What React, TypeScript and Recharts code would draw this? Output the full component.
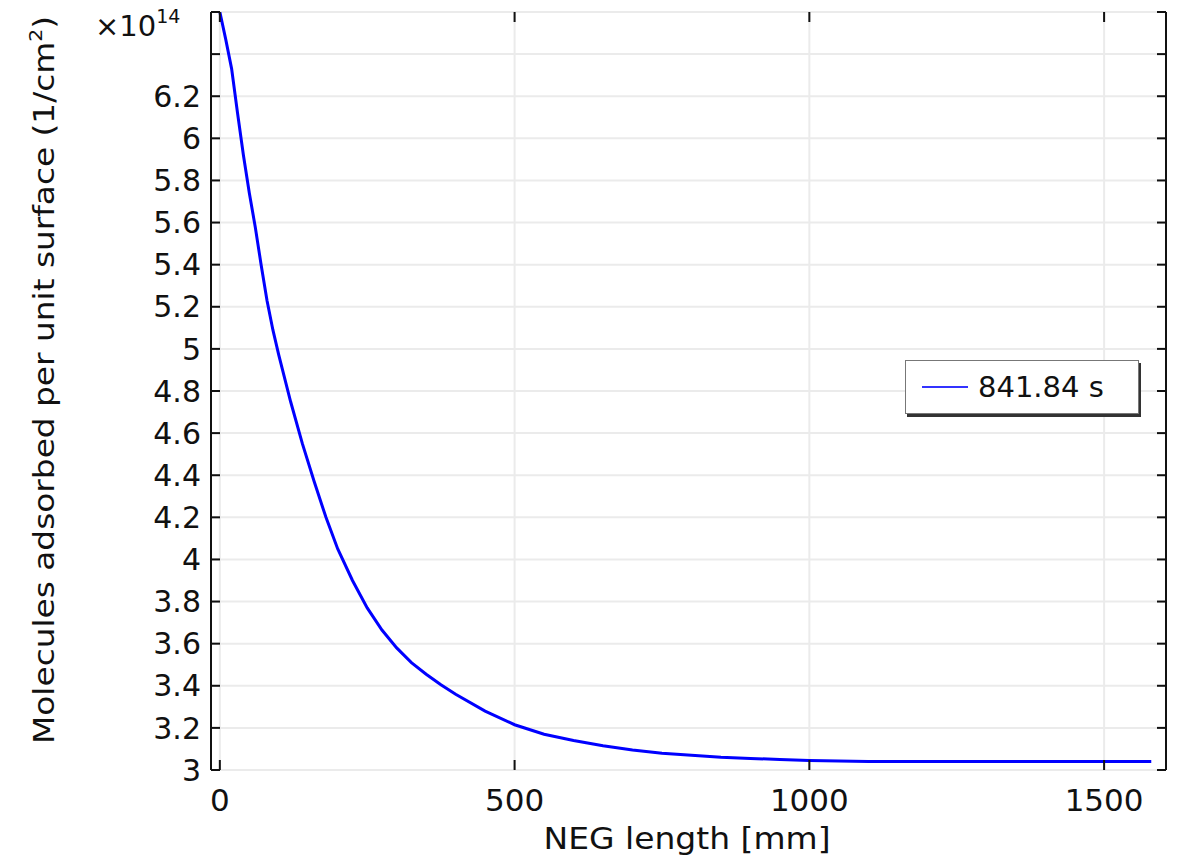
import { LineChart, Line, XAxis, YAxis, CartesianGrid, Legend, Label } from 'recharts'

// NEG length (mm) and adsorbed molecules (x1e14 1/cm2)
const negLength = [
  0, 10, 20, 30, 40, 50, 60, 70, 80, 90, 100, 120, 140, 160, 180, 200, 225, 250, 275, 300,
  325, 350, 375, 400, 450, 500, 550, 600, 650, 700, 750, 800, 850, 900, 950, 1000, 1100,
  1200, 1300, 1400, 1500, 1580,
]
const adsorbed = [
  6.6, 6.47, 6.33, 6.12, 5.92, 5.74, 5.58, 5.4, 5.23, 5.09, 4.97, 4.75, 4.55, 4.37, 4.2,
  4.05, 3.9, 3.77, 3.665, 3.58, 3.51, 3.455, 3.405, 3.36, 3.28, 3.215, 3.17, 3.14, 3.115,
  3.095, 3.08, 3.07, 3.06, 3.055, 3.05, 3.045, 3.04, 3.04, 3.04, 3.04, 3.04, 3.04,
]
const xTicks = [0, 500, 1000, 1500]
const yTicks = [3, 3.2, 3.4, 3.6, 3.8, 4, 4.2, 4.4, 4.6, 4.8, 5, 5.2, 5.4, 5.6, 5.8, 6, 6.2, 6.4, 6.6]
const seriesName = '841.84 s'

const data = negLength.map((x, i) => ({ x, y: adsorbed[i] }))

const FONT = '"DejaVu Sans", sans-serif'
const X_DOMAIN: [number, number] = [-15, 1605]
const Y_DOMAIN: [number, number] = [3, 6.6]
const blank = () => ''
const tickStroke = { stroke: '#111', strokeWidth: 2 }

function YTitle() {
  return (
    <g>
      <text
        x={54}
        y={380}
        transform="rotate(-90, 54, 380)"
        textAnchor="middle"
        fontFamily={FONT}
        fontSize={29}
        fill="#111"
        textLength={728}
        lengthAdjust="spacingAndGlyphs"
      >
        Molecules adsorbed per unit surface (1/cm
        <tspan dy={-12} fontSize={18}>2</tspan>
        <tspan dy={12}>)</tspan>
      </text>
      <text x={95} y={36} fontFamily={FONT} fontSize={29} fill="#111">
        ×10
        <tspan dy={-13} fontSize={19}>14</tspan>
      </text>
    </g>
  )
}

function XTitle() {
  return (
    <text
      x={687}
      y={849}
      textAnchor="middle"
      fontFamily={FONT}
      fontSize={31}
      fill="#111"
      textLength={287}
      lengthAdjust="spacingAndGlyphs"
    >
      NEG length [mm]
    </text>
  )
}

function LegendBox() {
  return (
    <div
      style={{
        width: 234,
        height: 54,
        boxSizing: 'border-box',
        background: '#fff',
        border: '1px solid #777',
        boxShadow: '2px 3px 0 #333',
        display: 'flex',
        alignItems: 'center',
        fontFamily: FONT,
        fontSize: 29,
        color: '#111',
      }}
    >
      <span style={{ display: 'inline-block', width: 46, height: 2, background: '#3333ff', marginLeft: 16, marginRight: 10 }} />
      <span>{seriesName}</span>
    </div>
  )
}

export default function App() {
  return (
    <div style={{ position: 'absolute', left: 0, top: 0, background: '#fff' }}>
      <LineChart width={1178} height={865} data={data} margin={{ top: 12, right: 12, bottom: 0, left: 0 }}>
        <CartesianGrid xAxisId="bottom" yAxisId="left" stroke="#ebebeb" strokeWidth={2} verticalValues={xTicks} horizontalValues={yTicks} />
        <XAxis
          xAxisId="bottom"
          dataKey="x"
          type="number"
          domain={X_DOMAIN}
          ticks={xTicks}
          interval={0}
          allowDataOverflow
          height={95}
          axisLine={false}
          tickLine={false}
          tickSize={0}
          tickMargin={19}
          tick={{ fontFamily: FONT, fontSize: 31, fill: '#111' }}
          label={<Label content={<XTitle />} />}
        />
        <XAxis
          xAxisId="bottomTicks"
          dataKey="x"
          type="number"
          domain={X_DOMAIN}
          ticks={xTicks}
          interval={0}
          allowDataOverflow
          mirror
          axisLine={false}
          tickFormatter={blank}
          tickSize={10}
          tickLine={tickStroke}
        />
        <XAxis
          xAxisId="top"
          orientation="top"
          dataKey="x"
          type="number"
          domain={X_DOMAIN}
          ticks={xTicks}
          interval={0}
          allowDataOverflow
          mirror
          axisLine={false}
          tickFormatter={blank}
          tickSize={10}
          tickLine={tickStroke}
        />
        <YAxis
          yAxisId="left"
          type="number"
          domain={Y_DOMAIN}
          ticks={yTicks}
          interval={0}
          allowDataOverflow
          width={211}
          axisLine={{ stroke: '#111', strokeWidth: 2 }}
          tickLine={false}
          tickSize={0}
          tickMargin={10}
          tickFormatter={(v: number) => (v > 6.3 ? '' : String(v))}
          tick={{ fontFamily: FONT, fontSize: 30, fill: '#111' }}
          label={<Label content={<YTitle />} />}
        />
        <YAxis
          yAxisId="leftTicks"
          type="number"
          domain={Y_DOMAIN}
          ticks={yTicks}
          interval={0}
          allowDataOverflow
          mirror
          axisLine={false}
          tickFormatter={blank}
          tickSize={9}
          tickLine={tickStroke}
        />
        <YAxis
          yAxisId="right"
          orientation="right"
          type="number"
          domain={Y_DOMAIN}
          ticks={yTicks}
          interval={0}
          allowDataOverflow
          mirror
          axisLine={{ stroke: '#111', strokeWidth: 2 }}
          tickFormatter={blank}
          tickSize={9}
          tickLine={tickStroke}
        />
        <Legend
          content={<LegendBox />}
          layout="horizontal"
          align="center"
          verticalAlign="middle"
          wrapperStyle={{ position: 'absolute', left: 905, top: 360, width: 240, height: 60 }}
        />
        {/* invisible copies so the tick-only axes get a series and render */}
        <Line xAxisId="bottomTicks" yAxisId="leftTicks" dataKey="y" stroke="none" dot={false} legendType="none" isAnimationActive={false} />
        <Line xAxisId="top" yAxisId="right" dataKey="y" stroke="none" dot={false} legendType="none" isAnimationActive={false} />
        <Line
          xAxisId="bottom"
          yAxisId="left"
          type="linear"
          dataKey="y"
          name={seriesName}
          stroke="#0000ff"
          strokeWidth={3}
          dot={false}
          isAnimationActive={false}
        />
      </LineChart>
    </div>
  )
}
